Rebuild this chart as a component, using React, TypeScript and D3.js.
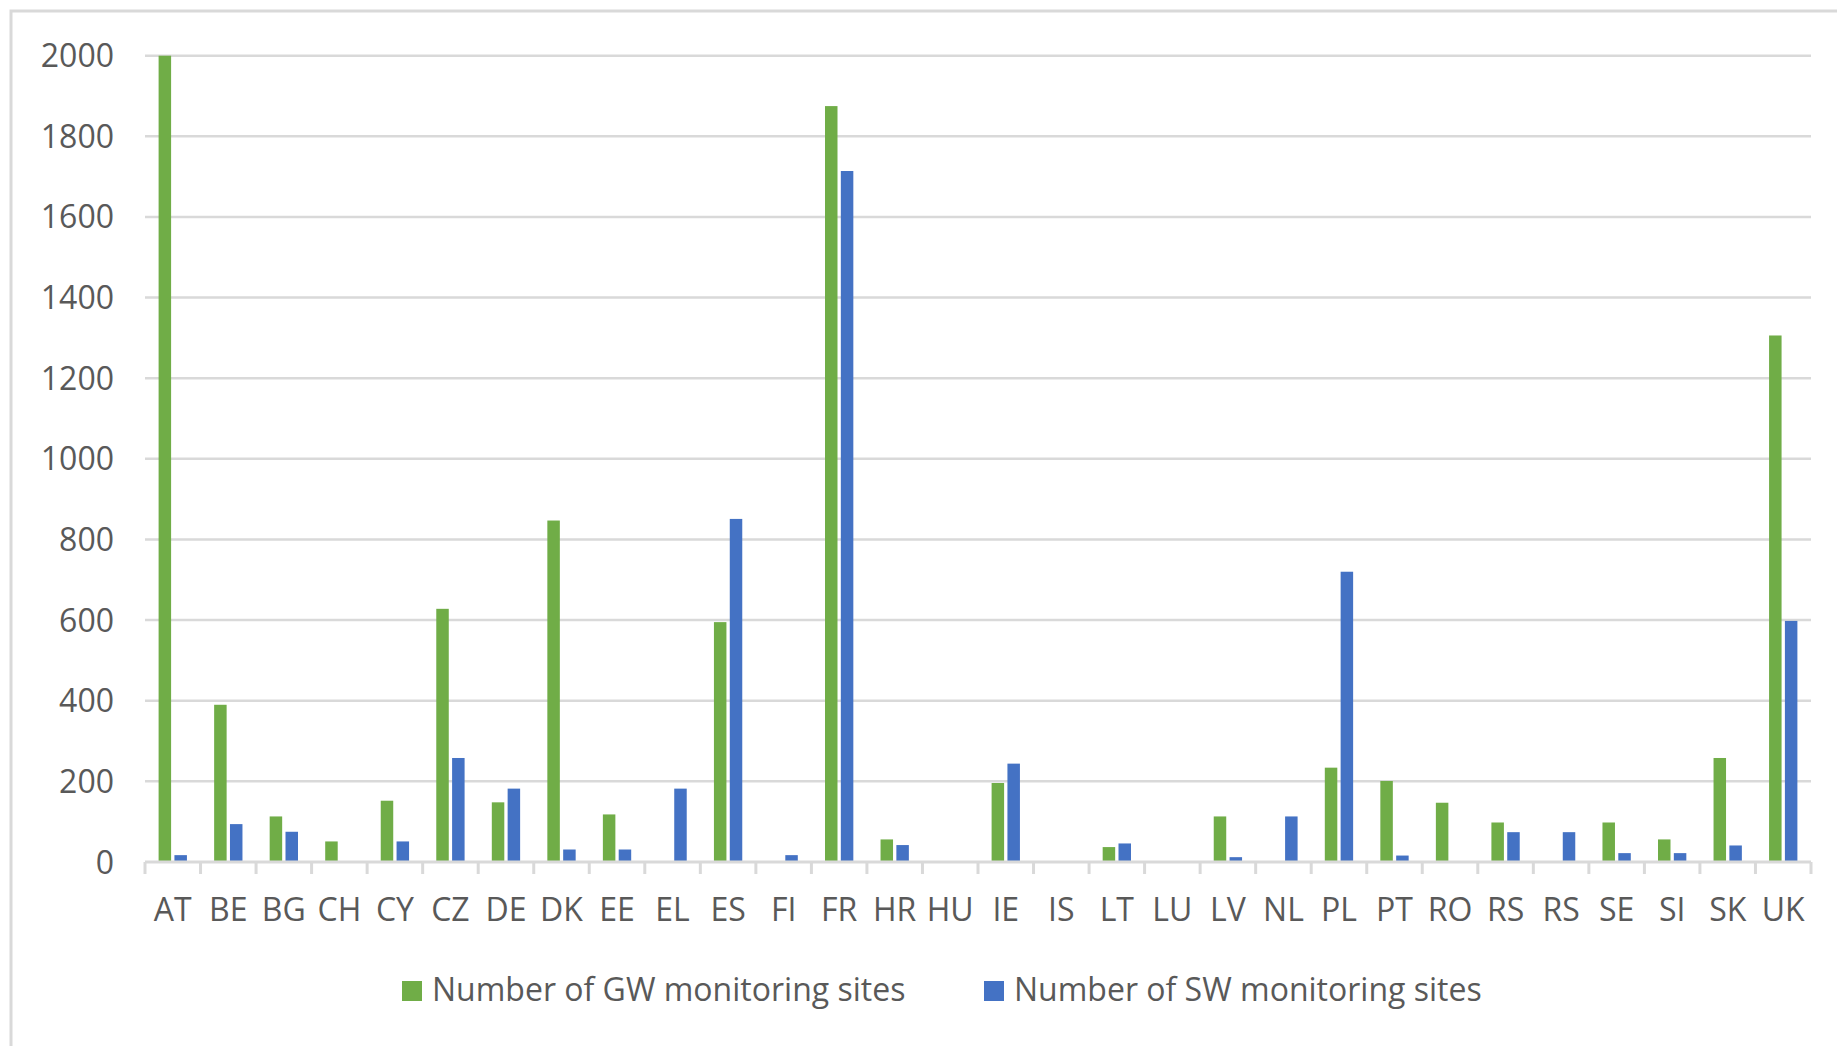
import React from "react";
import * as d3 from "d3";

const categories = ["AT","BE","BG","CH","CY","CZ","DE","DK","EE","EL","ES","FI","FR","HR","HU","IE","IS","LT","LU","LV","NL","PL","PT","RO","RS","RS","SE","SI","SK","UK"];
const gwSites = [2000,390,113,51,152,628,148,847,118,0,595,0,1875,56,0,196,0,37,0,113,0,234,201,147,98,0,98,56,258,1306];
const swSites = [17,94,75,0,51,258,182,31,31,182,851,17,1714,42,0,244,0,46,0,12,113,720,16,0,74,74,22,22,41,598];
const yTicks = [0,200,400,600,800,1000,1200,1400,1600,1800,2000];
const seriesNames = ["Number of GW monitoring sites","Number of SW monitoring sites"];
const seriesColors = ["#70AD47","#4472C4"];

const W = 1837, H = 1046;
const FONT = "'Open Sans', 'Noto Sans', sans-serif";
const TEXT = "#595959";
const GRID = "#d9d9d9";

export default function App() {
  const left = 145, right = 1811, top = 55.7, bottom = 862;
  const x = d3.scaleBand<number>().domain(categories.map((_, i) => i)).range([left, right]).padding(0);
  const y = d3.scaleLinear().domain([0, 2000]).range([bottom, top]);
  const bw = x.bandwidth();
  const barW = bw * 0.225;
  const gap = bw * 0.06;
  const pairW = barW * 2 + gap;
  const series = [gwSites, swSites];

  return (
    <svg width={W} height={H} style={{ position: "absolute", left: 0, top: 0, background: "#fff" }} fontFamily={FONT}>
      <rect x={0} y={0} width={W} height={H} fill="#fff" />
      <rect x={11} y={11} width={W + 100} height={H + 100} fill="none" stroke={GRID} strokeWidth={3} />
      {yTicks.filter(t => t > 0).map(t => (
        <line key={t} x1={left} x2={right} y1={y(t)} y2={y(t)} stroke={GRID} strokeWidth={2.5} />
      ))}
      {yTicks.map(t => (
        <text key={"l" + t} x={114} y={y(t)} dy="0.36em" textAnchor="end" fontSize={32} fill={TEXT}>{t}</text>
      ))}
      {series.map((vals, s) => vals.map((v, i) => v > 0 ? (
        <rect key={s + "-" + i}
          x={(x(i) as number) + bw / 2 - pairW / 2 + s * (barW + gap)}
          y={y(v)} width={barW} height={bottom - y(v)} fill={seriesColors[s]} />
      ) : null))}
      <line x1={left} x2={right} y1={bottom} y2={bottom} stroke={GRID} strokeWidth={3} />
      {d3.range(categories.length + 1).map(i => {
        const xx = i < categories.length ? (x(i) as number) : right;
        return <line key={"t" + i} x1={xx} x2={xx} y1={bottom} y2={bottom + 12} stroke={GRID} strokeWidth={3} />;
      })}
      {categories.map((c, i) => (
        <text key={"c" + i} x={(x(i) as number) + bw / 2} y={921} textAnchor="middle" fontSize={32} fill={TEXT}>{c}</text>
      ))}
      {seriesNames.map((n, s) => {
        const lx = s === 0 ? 402 : 984;
        return (
          <g key={"lg" + s}>
            <rect x={lx} y={981} width={20} height={20} fill={seriesColors[s]} />
            <text x={lx + 30} y={1001} fontSize={32} fill={TEXT}>{n}</text>
          </g>
        );
      })}
    </svg>
  );
}
